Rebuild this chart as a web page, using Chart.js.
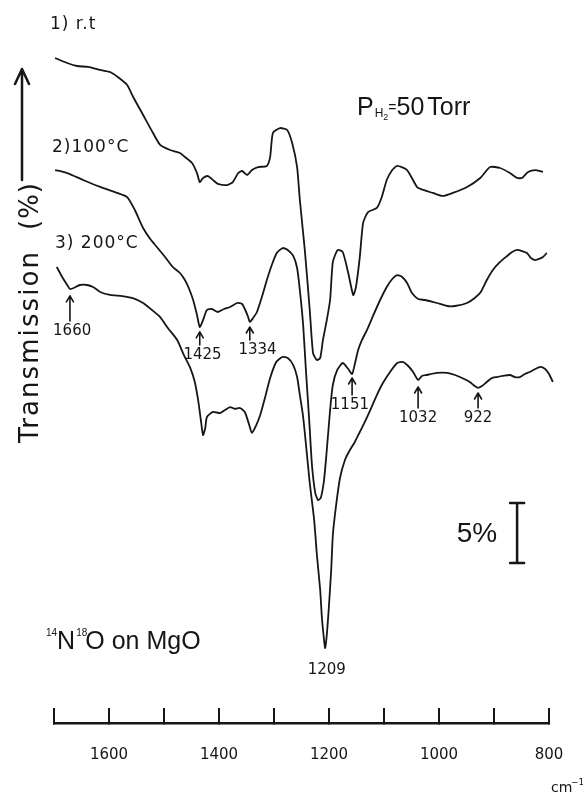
<!DOCTYPE html>
<html><head><meta charset="utf-8">
<script src="https://cdn.jsdelivr.net/npm/chart.js@4"></script>
<style>html,body{margin:0;padding:0;background:#fff;}canvas{display:block;}</style>
</head><body>
<canvas id="c" width="583" height="796"></canvas>
<script>
// ---- data (wavenumber in cm-1, transmission in % with vertical offsets) ----
const wn1 = [1698,1676,1658,1638,1616,1598,1584,1567,1556,1538,1520,1507,1489,1471,1462,1449,1440,1435,1429,1420,1411,1402,1385,1375,1365,1358,1349,1340,1329,1313,1307,1302,1289,1276,1267,1258,1253,1244,1235,1229,1222,1216,1211,1204,1198,1193,1184,1175,1165,1156,1151,1144,1138,1129,1113,1104,1095,1085,1076,1058,1040,1029,1011,993,975,949,925,907,889,871,858,849,838,825,811];
const t1 = [55.42,55.0,54.75,54.67,54.42,54.25,53.83,53.17,52.17,50.67,49.17,48.17,47.75,47.5,47.17,46.67,45.83,45.08,45.42,45.58,45.25,44.92,44.83,45.08,45.83,46.0,45.67,46.08,46.33,46.42,47.17,49.17,49.58,49.42,48.33,46.33,43.58,39.42,34.42,30.83,30.25,30.42,31.92,33.58,35.25,38.42,39.42,39.25,37.5,35.67,36.33,38.83,41.67,42.58,42.92,43.83,45.25,46.08,46.42,46.08,44.67,44.42,44.17,43.92,44.17,44.67,45.42,46.33,46.25,45.83,45.42,45.42,45.92,46.08,45.92];

const wn2 = [1698,1676,1647,1616,1585,1567,1553,1538,1525,1513,1498,1484,1471,1462,1455,1447,1440,1435,1429,1422,1413,1402,1391,1380,1367,1358,1353,1347,1344,1338,1331,1322,1313,1304,1295,1284,1275,1265,1258,1253,1247,1242,1236,1231,1225,1220,1215,1209,1204,1198,1193,1185,1175,1165,1158,1153,1147,1140,1131,1120,1107,1095,1085,1076,1067,1058,1049,1038,1025,1004,985,971,949,935,924,913,902,889,876,867,858,849,840,833,825,818,811,804];
const t2 = [46.08,45.83,45.25,44.67,44.17,43.83,42.75,41.25,40.33,39.67,38.83,38.0,37.5,36.92,36.25,35.25,34.0,33.0,33.58,34.42,34.5,34.25,34.5,34.67,35.0,34.92,34.5,33.83,33.42,33.75,34.25,35.5,36.92,38.17,39.17,39.58,39.42,38.92,37.92,36.08,33.17,29.42,25.25,21.5,19.17,18.58,18.75,20.25,22.75,26.08,28.17,29.42,30.0,29.5,29.08,29.92,31.08,31.92,32.75,33.92,35.25,36.33,37.0,37.33,37.17,36.67,35.83,35.33,35.25,35.0,34.75,34.75,35.0,35.42,35.92,36.92,37.75,38.42,38.92,39.25,39.42,39.33,39.17,38.75,38.58,38.67,38.83,39.17];

const wn3 = [1695,1684,1676,1671,1664,1653,1640,1629,1616,1598,1576,1558,1538,1522,1507,1493,1476,1464,1453,1444,1438,1433,1429,1425,1422,1411,1398,1389,1380,1371,1362,1353,1345,1340,1333,1325,1316,1307,1296,1285,1275,1265,1258,1253,1247,1240,1235,1227,1222,1216,1213,1209,1207,1204,1200,1196,1193,1187,1180,1171,1162,1153,1144,1135,1125,1113,1102,1089,1076,1065,1056,1047,1038,1031,1022,1004,985,971,958,944,935,929,922,913,904,895,884,871,862,853,844,835,825,816,807,800,793];
const t3 = [38.0,37.08,36.5,36.17,36.25,36.5,36.5,36.33,35.92,35.67,35.58,35.42,35.0,34.42,33.83,32.92,31.92,30.67,29.67,28.42,26.92,25.25,24.0,24.58,25.5,25.92,25.83,26.08,26.33,26.17,26.25,25.92,24.83,24.17,24.75,25.67,27.17,28.75,30.08,30.5,30.42,29.83,28.83,27.33,25.5,22.33,20.0,16.92,14.0,11.08,8.83,6.92,6.25,7.33,9.83,12.75,15.67,18.17,20.42,21.92,22.75,23.42,24.25,25.08,26.08,27.33,28.33,29.25,30.0,30.08,29.75,29.25,28.58,28.92,29.0,29.17,29.17,29.0,28.75,28.42,28.08,27.92,28.08,28.42,28.75,28.83,28.92,29.0,28.83,28.83,29.08,29.25,29.5,29.67,29.5,29.08,28.42];

const seriesNames = ['1) r.t', '2)100°C', '3) 200°C'];
const tickValues = [1600, 1400, 1200, 1000, 800];

// peak annotations: label, arrow position (cm-1), arrow tip value, label position, label value
const peakNames   = ['1660','1425','1334','1151','1032','922'];
const peakPos     = [1671, 1435, 1344, 1158, 1038, 929];
const peakTip     = [35.6, 32.6, 33.0, 28.75, 28.0, 27.5];
const peakLblPos  = [1667, 1430, 1330, 1162, 1038, 929];
const peakLblVal  = [32.67, 30.67, 31.08, 26.5, 25.42, 25.42];
const mainPeak = '1209', mainPeakPos = 1204, mainPeakVal = 4.4;
const scaleBarPct = 5, scaleBarPos = 858, scaleBarBase = 13.33;

const INK = '#161616';
const toPts = (xs, ys) => xs.map((x, i) => ({x, y: ys[i]}));

function arrowUp(ctx, x, yTip, yEnd) {
  ctx.beginPath();
  ctx.moveTo(x, yEnd); ctx.lineTo(x, yTip);
  ctx.moveTo(x - 3.5, yTip + 6); ctx.lineTo(x, yTip); ctx.lineTo(x + 3.5, yTip + 6);
  ctx.stroke();
}

const annot = {
  id: 'annot',
  afterDraw(chart) {
    const {ctx, scales: {x, y}} = chart;
    ctx.save();
    ctx.fillStyle = INK; ctx.strokeStyle = INK; ctx.lineCap = 'round'; ctx.lineJoin = 'round';

    // series labels
    ctx.font = '17px "DejaVu Sans"'; ctx.textBaseline = 'middle'; ctx.textAlign = 'left';
    ctx.letterSpacing = '1px';
    ctx.fillText(seriesNames[0], 50, 25);
    ctx.fillText(seriesNames[1], 52, 148);
    ctx.fillText(seriesNames[2], 55, 244);
    ctx.letterSpacing = '0px';

    // pressure label
    ctx.textBaseline = 'alphabetic';
    ctx.font = '25px "Liberation Sans"';
    let px = 357;
    ctx.fillText('P', px, 115); px += ctx.measureText('P').width + 1;
    ctx.font = '12px "Liberation Sans"';
    ctx.fillText('H', px, 117); px += ctx.measureText('H').width;
    ctx.font = '9px "Liberation Sans"';
    ctx.fillText('2', px, 120); px += ctx.measureText('2').width;
    ctx.font = '14px "Liberation Sans"';
    ctx.fillText('=', px, 112); px += ctx.measureText('=').width;
    ctx.font = '25px "Liberation Sans"';
    ctx.fillText('50', px, 115); px += ctx.measureText('50').width + 3;
    ctx.fillText('Torr', px, 115);

    // sample label 14N18O on MgO
    let sx = 46;
    ctx.font = '10px "Liberation Sans"';
    ctx.fillText('14', sx, 636); sx += ctx.measureText('14').width;
    ctx.font = '25px "Liberation Sans"';
    ctx.fillText('N', sx, 649); sx += ctx.measureText('N').width + 1;
    ctx.font = '10px "Liberation Sans"';
    ctx.fillText('18', sx, 636); sx += ctx.measureText('18').width - 2;
    ctx.font = '25px "Liberation Sans"';
    ctx.fillText('O on MgO', sx, 649);

    // scale bar
    const bx = x.getPixelForValue(scaleBarPos);
    const b0 = y.getPixelForValue(scaleBarBase), b1 = y.getPixelForValue(scaleBarBase + scaleBarPct);
    ctx.lineWidth = 2.5;
    ctx.beginPath();
    ctx.moveTo(bx, b0); ctx.lineTo(bx, b1);
    ctx.moveTo(bx - 7, b0); ctx.lineTo(bx + 7, b0);
    ctx.moveTo(bx - 7, b1); ctx.lineTo(bx + 7, b1);
    ctx.stroke();
    ctx.font = '28px "Liberation Sans"'; ctx.textAlign = 'right'; ctx.textBaseline = 'middle';
    ctx.fillText(scaleBarPct + '%', bx - 20, (b0 + b1) / 2 + 1);

    // peak arrows and labels
    ctx.lineWidth = 1.6; ctx.textAlign = 'center'; ctx.textBaseline = 'middle';
    ctx.font = '15px "DejaVu Sans"';
    peakNames.forEach((n, i) => {
      const ax = x.getPixelForValue(peakPos[i]);
      const tip = y.getPixelForValue(peakTip[i]);
      const ly = y.getPixelForValue(peakLblVal[i]);
      arrowUp(ctx, ax, tip, ly - 10);
      ctx.fillText(n, x.getPixelForValue(peakLblPos[i]), ly);
    });
    ctx.fillText(mainPeak, x.getPixelForValue(mainPeakPos), y.getPixelForValue(mainPeakVal));

    // y-axis title with arrow
    ctx.save();
    ctx.translate(38, 443); ctx.rotate(-Math.PI / 2);
    ctx.font = '26px "DejaVu Sans"'; ctx.textAlign = 'left'; ctx.textBaseline = 'alphabetic';
    const w0 = ctx.measureText('Transmission').width;
    ctx.letterSpacing = ((193 - w0) / 12).toFixed(2) + 'px';
    ctx.fillText('Transmission', 0, 0);
    ctx.letterSpacing = '1px';
    ctx.fillText('(%)', 213, 0);
    ctx.restore();
    ctx.letterSpacing = '0px';
    ctx.lineWidth = 2.5;
    ctx.beginPath();
    ctx.moveTo(22, 180); ctx.lineTo(22, 69);
    ctx.moveTo(15, 84); ctx.lineTo(22, 69); ctx.lineTo(29, 84);
    ctx.stroke();

    // unit
    ctx.textAlign = 'left'; ctx.textBaseline = 'alphabetic';
    ctx.font = '14px "DejaVu Sans"';
    ctx.fillText('cm', 551, 792);
    ctx.font = '9px "DejaVu Sans"';
    ctx.fillText('\u22121', 571, 785);
    ctx.restore();
  }
};

const ds = (name, xs, ys) => ({
  label: name, data: toPts(xs, ys), borderColor: INK, borderWidth: 1.8,
  pointRadius: 0, tension: 0.2, fill: false, clip: false
});

new Chart(document.getElementById('c'), {
  type: 'line',
  data: { datasets: [ds(seriesNames[0], wn1, t1), ds(seriesNames[1], wn2, t2), ds(seriesNames[2], wn3, t3)] },
  options: {
    responsive: false, animation: false, devicePixelRatio: 1,
    layout: { padding: { left: 54, right: 34, top: 3, bottom: 0 } },
    plugins: { legend: { display: false }, tooltip: { enabled: false } },
    scales: {
      x: {
        type: 'linear', min: 800, max: 1700, reverse: true, position: 'bottom',
        afterFit: s => { s.height = 73; s.paddingLeft = 0; s.paddingRight = 0; },
        border: { display: true, color: INK, width: 2.5 },
        grid: { drawOnChartArea: false, drawTicks: true, tickLength: -15, color: INK, lineWidth: 2 },
        ticks: {
          stepSize: 100, autoSkip: false, maxRotation: 0, padding: 38, color: INK,
          font: { family: 'DejaVu Sans', size: 15 },
          callback: v => tickValues.includes(v) ? String(v) : ''
        }
      },
      y: { display: false, min: 0, max: 60 }
    }
  },
  plugins: [annot]
});
</script>
</body></html>
